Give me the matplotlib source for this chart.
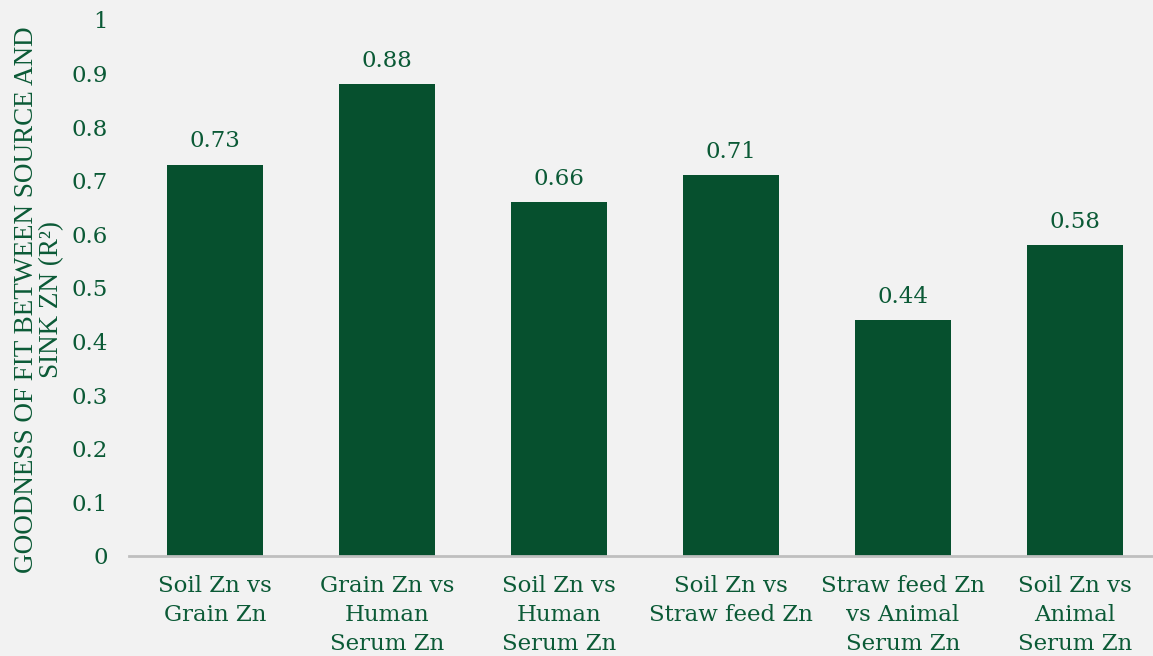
import matplotlib.pyplot as plt
import numpy as np

categories = ["Soil Zn vs\nGrain Zn", "Grain Zn vs\nHuman\nSerum Zn", "Soil Zn vs\nHuman\nSerum Zn",
              "Soil Zn vs\nStraw feed Zn", "Straw feed Zn\nvs Animal\nSerum Zn", "Soil Zn vs\nAnimal\nSerum Zn"]
r2_values = [0.73, 0.88, 0.66, 0.71, 0.44, 0.58]
y_ticks = [0, 0.1, 0.2, 0.3, 0.4, 0.5, 0.6, 0.7, 0.8, 0.9, 1]
y_tick_labels = ["0", "0.1", "0.2", "0.3", "0.4", "0.5", "0.6", "0.7", "0.8", "0.9", "1"]

bar_color = "#06502e"
text_color = "#0b5a36"
bg = "#f2f2f2"

fig = plt.figure(figsize=(11.53, 6.56), dpi=100, facecolor=bg)
ax = fig.add_axes([129 / 1153, 1 - 556 / 656, 1032 / 1153, 536 / 656], facecolor=bg)

x = np.arange(len(categories))
bars = ax.bar(x, r2_values, width=0.558, color=bar_color, zorder=2)

for xi, v in zip(x, r2_values):
    ax.annotate(f"{v:.2f}", (xi, v), xytext=(0, 9), textcoords="offset points",
                ha="center", va="bottom", fontsize=16.5, family="DejaVu Serif", color=text_color)

ax.set_xlim(-0.5, len(categories) - 0.5)
ax.set_ylim(0, 1)
ax.set_yticks(y_ticks)
ax.set_yticklabels(y_tick_labels, family="DejaVu Serif", fontsize=16.5, color=text_color)
ax.set_xticks(x)
ax.set_xticklabels(categories, family="DejaVu Serif", fontsize=16.5, color=text_color, linespacing=1.4)
ax.tick_params(axis="both", length=0)
ax.tick_params(axis="y", pad=15)
ax.tick_params(axis="x", pad=14)

for s in ["top", "right", "left"]:
    ax.spines[s].set_visible(False)
ax.spines["bottom"].set_color("#bfbfbf")
ax.spines["bottom"].set_linewidth(2)

fig.text(39 / 1153, 1 - 300 / 656, "GOODNESS OF FIT BETWEEN SOURCE AND\nSINK ZN (R²)",
         rotation=90, ha="center", va="center", fontsize=19.5, family="Liberation Serif",
         color=text_color, linespacing=1.05, multialignment="center")

fig.savefig("out.png", dpi=100, facecolor=bg)
